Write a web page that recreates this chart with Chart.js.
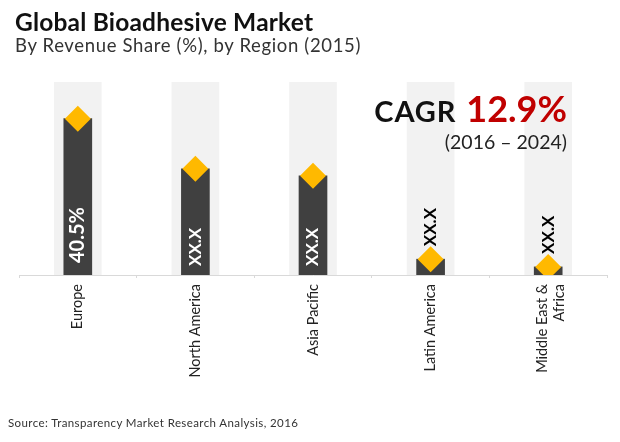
<!DOCTYPE html>
<html>
<head>
<meta charset="utf-8">
<script src="https://cdn.jsdelivr.net/npm/chart.js@4"></script>
<style>
  body { margin: 0; background: #fff; }
  #wrap { position: relative; width: 620px; height: 442px; overflow: hidden; font-family: Lato, sans-serif; color: #111; }
  #wrap div { position: absolute; white-space: nowrap; line-height: 1; }
  #title { left: 15px; top: 10px; font-size: 24.5px; font-weight: 700; letter-spacing: 0.2px; }
  #subtitle { left: 15px; top: 36px; font-size: 18.5px; letter-spacing: 0.65px; color: #333; }
  #cagr { right: 53px; top: 90px; font-size: 29px; font-weight: 700; letter-spacing: 0.9px; }
  #cagr span { font-size: 36px; color: #c00000; margin-left: 2px; letter-spacing: 0; }
  #years { right: 53px; top: 132px; font-size: 19.5px; color: #222; }
  #source { left: 8px; top: 417px; font-size: 11.5px; letter-spacing: 0.4px; color: #333; }
</style>
</head>
<body>
<div id="wrap">
  <canvas id="myChart" width="620" height="442"></canvas>
  <div id="title">Global Bioadhesive Market</div>
  <div id="subtitle">By Revenue Share (%), by Region (2015)</div>
  <div id="cagr">CAGR <span>12.9%</span></div>
  <div id="years">(2016 – 2024)</div>
  <div id="source">Source: Transparency Market Research Analysis, 2016</div>
</div>
<script>
let regions = ["Europe", "North America", "Asia Pacific", "Latin America", ["Middle East &", "Africa"]];
let shares = [40.5, 27.5, 25.7, 4.1, 2.1];
let backdrop = [50, 50, 50, 50, 50];
let barLabels = ["40.5%", "XX.X", "XX.X", "XX.X", "XX.X"];

// rotated labels: inside the bar when it is tall, above the diamond when it is not
let barLabelPlugin = {
  id: "barLabels",
  beforeDraw(chart) {
    // the two line label sits centred on its tick in the reference
    chart.scales.x.getLabelItems()[4].options.translation[0] -= 6;
  },
  afterDatasetsDraw(chart) {
    let ctx = chart.ctx;
    let bars = chart.getDatasetMeta(1).data;
    let base = chart.scales.y.bottom;
    bars.forEach(function (bar, i) {
      let inside = shares[i] > 10;
      ctx.save();
      ctx.translate(bar.x, inside ? base - (i == 0 ? 12 : 9) : bar.y - 13);
      ctx.rotate(-Math.PI / 2);
      ctx.textAlign = "left";
      ctx.textBaseline = "middle";
      ctx.fillStyle = inside ? "#fff" : "#000";
      ctx.font = "bold " + (i == 0 ? 20 : 17) + "px Lato, sans-serif";
      ctx.fillText(barLabels[i], 0, 0);
      ctx.restore();
    });
  },
};

new Chart(document.getElementById("myChart"), {
  data: {
    labels: regions,
    datasets: [
      {
        type: "line",
        data: shares,
        showLine: false,
        pointStyle: "rectRot",
        pointRadius: 13,
        pointHoverRadius: 13,
        pointBackgroundColor: "#ffb900",
        pointBorderWidth: 0,
        order: 1,
      },
      {
        type: "bar",
        data: shares,
        backgroundColor: "#404040",
        barThickness: 28,
        grouped: false,
        order: 2,
      },
      {
        type: "bar",
        data: backdrop,
        backgroundColor: "#f2f2f2",
        barThickness: 47,
        grouped: false,
        order: 3,
      },
    ],
  },
  options: {
    responsive: false,
    animation: false,
    layout: {
      padding: { top: 82, left: 19, right: 13, bottom: 0 },
    },
    plugins: {
      legend: { display: false },
      tooltip: { enabled: false },
    },
    scales: {
      x: {
        afterFit(scale) {
          scale.height = 167;
        },
        grid: { drawOnChartArea: false, tickLength: 3, color: "#d9d9d9" },
        border: { color: "#d9d9d9", width: 1 },
        ticks: {
          minRotation: 90,
          maxRotation: 90,
          padding: 6,
          color: "#222",
          font: { family: "Lato, sans-serif", size: 14.5 },
        },
      },
      y: { display: false, min: 0, max: 50 },
    },
  },
  plugins: [barLabelPlugin],
});
</script>
</body>
</html>
